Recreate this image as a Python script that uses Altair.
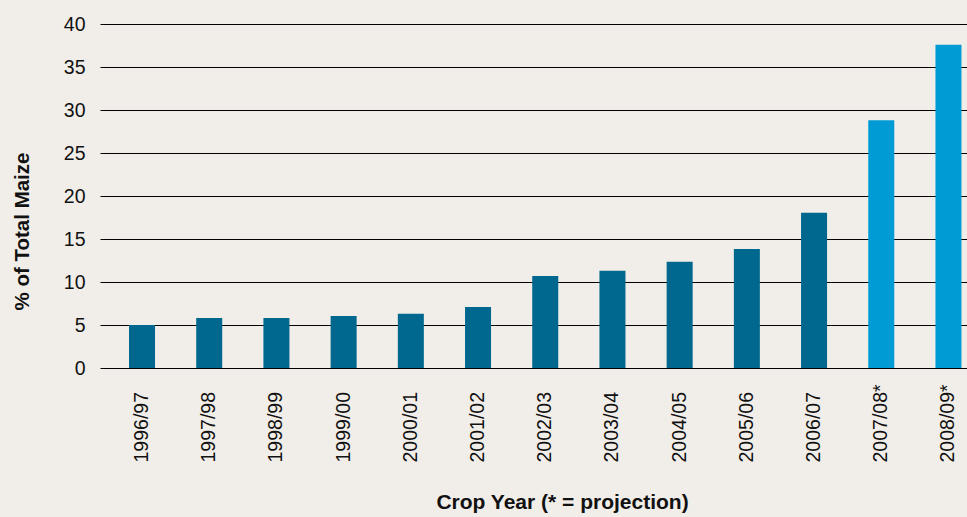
import altair as alt
import pandas as pd

# Crop years (projections marked with *) and share of total maize, in %
crop_years = ["1996/97", "1997/98", "1998/99", "1999/00", "2000/01", "2001/02",
              "2002/03", "2003/04", "2004/05", "2005/06", "2006/07",
              "2007/08*", "2008/09*"]
share_pct = [5.0, 5.8, 5.8, 6.05, 6.3, 7.1, 10.7, 11.3, 12.35, 13.85, 18.05, 28.8, 37.6]
kind = ["actual"] * 11 + ["projection"] * 2

y_ticks = [0, 5, 10, 15, 20, 25, 30, 35, 40]

df = pd.DataFrame({"year": crop_years, "share": share_pct, "kind": kind})

FONT = "Liberation Sans"
INK = "#111111"

bars = alt.Chart(df).mark_bar().encode(
    x=alt.X(
        "year:N",
        sort=None,
        scale=alt.Scale(paddingInner=0.613, paddingOuter=0.257, align=0.84),
        axis=alt.Axis(
            title="Crop Year (* = projection)",
            labelAngle=270,
            labelAlign="left",
            labelBaseline="middle",
            labelPadding=94,
            labelFont=FONT,
            labelFontSize=19.5,
            labelColor=INK,
            ticks=False,
            tickSize=0,
            domain=False,
            titleFont=FONT,
            titleFontSize=21,
            titleFontWeight="bold",
            titleColor=INK,
            titleX=462,
            titleY=140,
            titleBaseline="alphabetic",
            titleAlign="center",
        ),
    ),
    y=alt.Y(
        "share:Q",
        scale=alt.Scale(domain=[0, 40], nice=False),
        axis=alt.Axis(
            title="% of Total Maize",
            values=y_ticks,
            grid=True,
            gridColor="#000000",
            gridWidth=1.2,
            gridOpacity=1,
            ticks=False,
            tickSize=0,
            domain=False,
            labelPadding=15,
            labelFont=FONT,
            labelFontSize=19.5,
            labelColor=INK,
            titleFont=FONT,
            titleFontSize=20.5,
            titleFontWeight="bold",
            titleColor=INK,
            titleAngle=270,
            titleX=-78,
            titleY=207,
            titleBaseline="middle",
            titleAlign="center",
        ),
    ),
    color=alt.Color(
        "kind:N",
        scale=alt.Scale(domain=["actual", "projection"], range=["#00678f", "#009ad5"]),
        legend=None,
    ),
)

chart = bars.properties(
    width=867,
    height=344,
    autosize=alt.AutoSizeParams(type="none"),
    padding={"left": 100, "top": 24, "right": 0, "bottom": 149},
    background="#f1eee9",
).configure_view(stroke=None)

chart.save("out.html", embed_options={"renderer": "svg", "actions": False})
